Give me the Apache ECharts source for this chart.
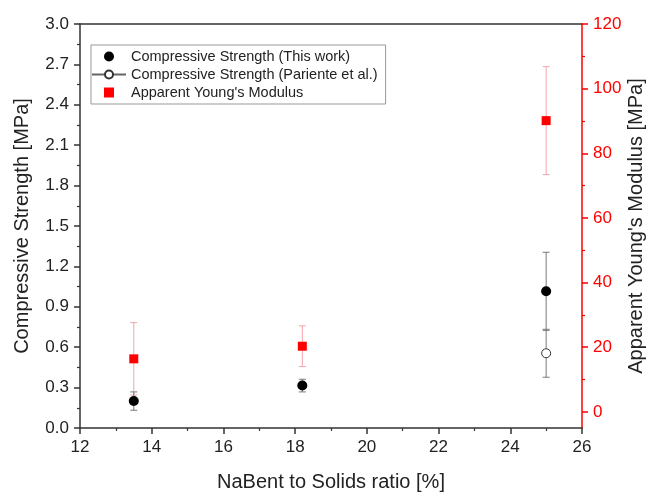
<!DOCTYPE html>
<html>
<head>
<meta charset="utf-8">
<script src="https://cdn.jsdelivr.net/npm/echarts@6/dist/echarts.min.js"></script>
<style>
html,body{margin:0;padding:0;background:#fff;}
#chart{width:654px;height:492px;}
</style>
</head>
<body>
<div id="chart"></div>
<script>
// ---- data ----
var ratioX = [13.5, 18.2, 25];                 // NaBent to Solids ratio [%]
var csThis = [0.2, 0.315, 1.015];              // Compressive Strength (This work) [MPa]
var csThisErr = [0.068, 0.047, 0.29];
var parX = [25];                               // Pariente et al.
var csPar = [0.555];
var csParErr = [0.178];
var ymX = [13.5, 18.2, 25];                    // Apparent Young's Modulus [MPa]
var ym = [16.4, 20.3, 90.1];
var ymErr = [11.2, 6.3, 16.7];
var rightMajor = [0, 20, 40, 60, 80, 100, 120];
var rightMinor = [10, 30, 50, 70, 90, 110];

var FONT = '"Liberation Sans", Arial, sans-serif';

function pairs(xs, ys) { return xs.map(function (x, i) { return [x, ys[i]]; }); }
function triples(xs, ys, es) { return xs.map(function (x, i) { return [x, ys[i], es[i]]; }); }

function errRender(color) {
  return function (params, api) {
    var x = api.value(0), v = api.value(1), e = api.value(2);
    var hi = api.coord([x, v + e]);
    var lo = api.coord([x, v - e]);
    var w = 3.5;
    var st = { stroke: color, lineWidth: 1 };
    return {
      type: 'group',
      children: [
        { type: 'line', shape: { x1: hi[0], y1: hi[1], x2: lo[0], y2: lo[1] }, style: st },
        { type: 'line', shape: { x1: hi[0] - w, y1: hi[1], x2: hi[0] + w, y2: hi[1] }, style: st },
        { type: 'line', shape: { x1: lo[0] - w, y1: lo[1], x2: lo[0] + w, y2: lo[1] }, style: st }
      ]
    };
  };
}

var chart = echarts.init(document.getElementById('chart'), null, { renderer: 'canvas' });
var axisColor = '#333';
var red = '#ff0000';

chart.setOption({
  animation: false,
  backgroundColor: '#fff',
  grid: { left: 80, right: 72, top: 24, bottom: 64, containLabel: false, outerBoundsMode: 'none' },
  legend: {
    left: 91, top: 45, orient: 'vertical',
    padding: [4, 8, 4, 0],
    itemWidth: 34, itemHeight: 10, itemGap: 3,
    borderColor: '#999', borderWidth: 1, backgroundColor: '#fff',
    textStyle: { fontFamily: FONT, fontSize: 14.5, color: '#222' },
    data: [
      { name: 'Compressive Strength (This work)' },
      { name: 'Compressive Strength (Pariente et al.)' },
      { name: "Apparent Young's Modulus", icon: 'path://M0,0L10,0L10,10L0,10Z' }
    ]
  },
  xAxis: [{
    type: 'value', min: 12, max: 26, interval: 2, position: 'bottom',
    name: 'NaBent to Solids ratio [%]', nameLocation: 'middle', nameGap: 44,
    nameTextStyle: { fontFamily: FONT, fontSize: 20, color: '#222' },
    axisLine: { show: true, onZero: false, lineStyle: { color: axisColor, width: 1.5 } },
    axisTick: { show: true, inside: false, length: 6, lineStyle: { color: axisColor, width: 1.5 } },
    minorTick: { show: true, splitNumber: 2, length: 3, lineStyle: { color: axisColor, width: 1.2 } },
    axisLabel: { fontFamily: FONT, fontSize: 17, color: '#222', margin: 11 },
    splitLine: { show: false }
  }, {
    type: 'value', min: 12, max: 26, position: 'top',
    axisLine: { show: true, onZero: false, lineStyle: { color: axisColor, width: 1.5 } },
    axisTick: { show: false }, axisLabel: { show: false }, splitLine: { show: false }
  }],
  yAxis: [{
    type: 'value', min: 0, max: 3, interval: 0.3, position: 'left',
    name: 'Compressive Strength [MPa]', nameLocation: 'middle', nameGap: 48, nameMoveOverlap: false,
    nameTextStyle: { fontFamily: FONT, fontSize: 20, color: '#222' },
    axisLine: { show: true, onZero: false, lineStyle: { color: axisColor, width: 1.5 } },
    axisTick: { show: true, inside: false, length: 6, lineStyle: { color: axisColor, width: 1.5 } },
    minorTick: { show: true, splitNumber: 2, length: 3, lineStyle: { color: axisColor, width: 1.2 } },
    axisLabel: { fontFamily: FONT, fontSize: 17, color: '#222', margin: 11,
      formatter: function (v) { return v.toFixed(1); } },
    splitLine: { show: false }
  }, {
    type: 'value', min: -5, max: 120, position: 'right',
    name: "Apparent Young's Modulus [MPa]", nameLocation: 'middle', nameGap: 44, nameRotate: 90,
    nameMoveOverlap: false,
    nameTextStyle: { fontFamily: FONT, fontSize: 20, color: '#222' },
    axisLine: { show: true, onZero: false, lineStyle: { color: red, width: 1.5 } },
    axisTick: { show: true, inside: false, length: 6, customValues: rightMajor, lineStyle: { color: red, width: 1.5 } },
    axisLabel: { fontFamily: FONT, fontSize: 17, color: red, margin: 11, customValues: rightMajor },
    splitLine: { show: false }
  }, {
    type: 'value', min: -5, max: 120, position: 'right',
    axisLine: { show: false, onZero: false },
    axisTick: { show: true, inside: false, length: 3, customValues: rightMinor, lineStyle: { color: red, width: 1.2 } },
    axisLabel: { show: false },
    splitLine: { show: false }
  }],
  series: [
    {
      type: 'custom', xAxisIndex: 0, yAxisIndex: 1, renderItem: errRender('#f4a3ab'),
      data: triples(ymX, ym, ymErr), encode: { x: 0, y: 1 }, z: 1, silent: true
    },
    {
      type: 'custom', xAxisIndex: 0, yAxisIndex: 0, renderItem: errRender('#7a7a7a'),
      data: triples(ratioX, csThis, csThisErr), encode: { x: 0, y: 1 }, z: 1, silent: true
    },
    {
      type: 'custom', xAxisIndex: 0, yAxisIndex: 0, renderItem: errRender('#7a7a7a'),
      data: triples(parX, csPar, csParErr), encode: { x: 0, y: 1 }, z: 1, silent: true
    },
    {
      name: 'Compressive Strength (This work)', type: 'scatter', xAxisIndex: 0, yAxisIndex: 0,
      symbol: 'circle', symbolSize: 10, itemStyle: { color: '#000', opacity: 1 },
      data: pairs(ratioX, csThis), z: 5
    },
    {
      name: 'Compressive Strength (Pariente et al.)', type: 'line', xAxisIndex: 0, yAxisIndex: 0,
      symbol: 'circle', symbolSize: 9, showSymbol: true,
      itemStyle: { color: '#fff', borderColor: '#333', borderWidth: 1, opacity: 1 },
      lineStyle: { color: '#666', width: 1 },
      data: pairs(parX, csPar), z: 5
    },
    {
      name: "Apparent Young's Modulus", type: 'scatter', xAxisIndex: 0, yAxisIndex: 1,
      symbol: 'rect', symbolSize: 9, itemStyle: { color: red, opacity: 1 },
      data: pairs(ymX, ym), z: 5
    }
  ]
});
</script>
</body>
</html>
